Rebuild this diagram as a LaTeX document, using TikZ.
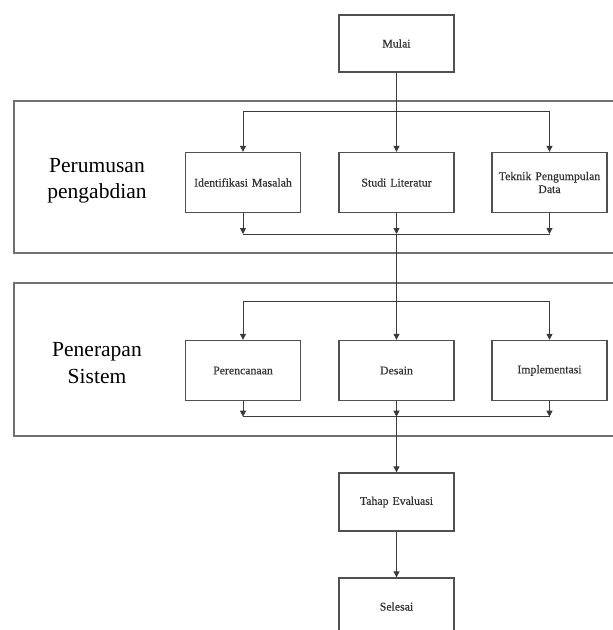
\documentclass[tikz,border=0pt]{standalone}
\usepackage{fontspec}
\setmainfont{Liberation Serif}
\newfontfamily\boxfont[FakeBold=0.5]{Liberation Serif}
\usetikzlibrary{arrows.meta}
\definecolor{ln}{HTML}{3A3A3A}
\definecolor{bx}{HTML}{505050}
\definecolor{gp}{HTML}{707070}
\begin{document}
\begin{tikzpicture}[x=1pt,y=-1pt,
  stepbox/.style={draw=bx,line width=1.3pt,minimum width=115pt,minimum height=60pt,inner sep=1pt,align=center,text width=112pt,font=\boxfont\fontsize{11.8}{13}\selectfont,text=black!80},
  groupbox/.style={draw=gp,line width=1.4pt},
  grouplabel/.style={align=center,font=\fontsize{21.5}{26.5}\selectfont,text=black},
  conn/.style={draw=ln,line width=0.9pt},
  arr/.style={conn,-{Triangle[length=6pt,width=6pt]}}]
\clip (0,0) rectangle (613,630);
\useasboundingbox (0,0) rectangle (613,630);
\fill[white] (0,0) rectangle (613,630);
% group boxes
\draw[groupbox] (14,101) rectangle (640,253);
\draw[groupbox] (14,283) rectangle (640,436);
\node[grouplabel] (lab1) at (97,181) {Perumusan\\pengabdian};
\node[grouplabel] (lab2) at (97,363) {Penerapan\\Sistem};
% nodes
\node[stepbox,minimum height=57pt] (mulai) at (396.5,43.5) {Mulai};
\node[stepbox] (idm) at (243,182.5) {Identifikasi Masalah};
\node[stepbox] (stl) at (396.5,182.5) {Studi Literatur};
\node[stepbox] (tpd) at (549.5,182.5) {Teknik Pengumpulan\\Data};
\node[stepbox] (per) at (243,370.5) {Perencanaan};
\node[stepbox] (des) at (396.5,370.5) {Desain};
\node[stepbox] (imp) at (549.5,370.5) {Implementasi};
\node[stepbox,minimum height=58pt] (eva) at (396.5,502) {Tahap Evaluasi};
\node[stepbox,minimum height=57pt] (sel) at (396.5,606.5) {Selesai};
% branch points
\coordinate (b1) at (396.5,111.5);
\coordinate (j1) at (396.5,234);
\coordinate (b2) at (396.5,301.5);
\coordinate (j2) at (396.5,416.7);
% group 1
\draw[arr] (mulai.south) -- (stl.north);
\draw[arr] (b1) -| (idm.north);
\draw[arr] (b1) -| (tpd.north);
\draw[arr] (idm.south) -- (idm.south |- j1);
\draw[arr] (stl.south) -- (j1);
\draw[arr] (tpd.south) -- (tpd.south |- j1);
\draw[conn] (idm.south |- j1) -- (tpd.south |- j1);
% group 2
\draw[arr] (j1) -- (des.north);
\draw[arr] (b2) -| (per.north);
\draw[arr] (b2) -| (imp.north);
\draw[arr] (per.south) -- (per.south |- j2);
\draw[arr] (des.south) -- (j2);
\draw[arr] (imp.south) -- (imp.south |- j2);
\draw[conn] (per.south |- j2) -- (imp.south |- j2);
% end
\draw[arr] (j2) -- (eva.north);
\draw[arr] (eva.south) -- (sel.north);
\end{tikzpicture}
\end{document}
